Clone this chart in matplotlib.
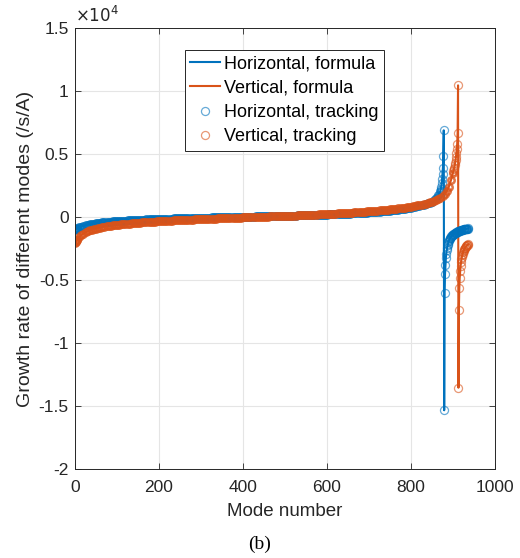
import numpy as np
import matplotlib.pyplot as plt
from matplotlib.ticker import FuncFormatter

plt.rcParams['font.family'] = ['Liberation Sans', 'DejaVu Sans']

# ----------------------
# Data (growth rate in 1/s/A)
# ----------------------
h_modes = np.concatenate([[1, 2, 3, 4], np.arange(5, 871, 5), np.arange(871, 937)])
h_rate = np.array([
    -1000, -970, -945, -920,
    -900, -820, -755, -700, -655, -615, -580, -548, -520, -495,
    -472, -450, -430, -412, -395, -379, -364, -350, -337, -325,
    -313, -302, -291, -281, -271, -262, -253, -244, -236, -228,
    -220, -212, -205, -198, -191, -184, -177, -171, -165, -159,
    -153, -147, -141, -135, -130, -124, -119, -114, -109, -104,
    -99, -94, -89, -85, -80, -76, -71, -67, -62, -58,
    -54, -50, -46, -42, -38, -34, -30, -26, -22, -18,
    -14, -11, -7, -3, 1, 4, 8, 12, 15, 19,
    23, 26, 30, 34, 37, 41, 45, 48, 52, 56,
    60, 63, 67, 71, 75, 79, 83, 87, 91, 95,
    99, 103, 108, 112, 116, 121, 125, 130, 134, 139,
    144, 149, 154, 159, 164, 170, 175, 181, 187, 193,
    199, 205, 212, 218, 225, 232, 240, 247, 255, 263,
    271, 280, 289, 298, 308, 318, 328, 339, 350, 362,
    374, 387, 400, 414, 428, 443, 459, 476, 493, 511,
    530, 550, 571, 593, 616, 640, 666, 693, 722, 752,
    784, 818, 855, 894, 936, 982, 1032, 1087, 1148, 1217,
    1320, 1480, 1720, 2050,
    2220, 2420, 2680, 3000, 3410, 3890, 4840, 6880,
    -15340, -6030, -4520, -3810, -3260, -2900, -2640, -2430, -2260, -2120,
    -2000, -1900, -1820, -1750, -1690, -1630, -1580, -1540, -1500, -1460,
    -1430, -1400, -1370, -1345, -1320, -1295, -1275, -1255, -1235, -1215,
    -1197, -1180, -1163, -1147, -1132, -1117, -1103, -1090, -1077, -1065,
    -1053, -1042, -1031, -1020, -1010, -1000, -991, -982, -973, -965,
    -957, -949, -941, -934, -927, -920, -913, -906,
])

v_modes = np.concatenate([[1, 2, 3, 4], np.arange(5, 901, 5), np.arange(901, 937)])
v_rate = np.array([
    -2100, -2010, -1930, -1860,
    -1800, -1590, -1430, -1310, -1215, -1135, -1070, -1010, -960, -915,
    -875, -838, -805, -774, -745, -718, -693, -669, -646, -625,
    -605, -586, -568, -551, -534, -518, -503, -488, -474, -460,
    -447, -434, -421, -409, -397, -385, -374, -363, -352, -341,
    -331, -321, -311, -301, -292, -283, -274, -265, -256, -248,
    -240, -232, -224, -216, -208, -200, -193, -185, -178, -171,
    -164, -157, -150, -143, -136, -129, -122, -116, -109, -103,
    -96, -90, -83, -77, -70, -64, -58, -51, -45, -39,
    -33, -27, -20, -14, -8, -2, 4, 10, 16, 22,
    28, 34, 40, 46, 53, 59, 65, 72, 78, 85,
    91, 98, 105, 111, 118, 125, 132, 139, 146, 154,
    161, 169, 176, 184, 192, 200, 209, 217, 226, 235,
    243, 252, 261, 270, 279, 289, 299, 309, 319, 330,
    341, 352, 364, 376, 388, 401, 414, 427, 441, 455,
    468, 481, 495, 509, 524, 539, 555, 571, 588, 606,
    624, 643, 663, 684, 706, 729, 753, 778, 804, 831,
    859, 889, 920, 953, 988, 1025, 1065, 1107, 1152, 1200,
    1250, 1320, 1410, 1520, 1650, 1800, 2050, 2400, 2900, 3500,
    3630, 3770, 3920, 4090, 4280, 4500, 4760, 5060, 5400, 5800, 6700, 10450,
    -13550, -7380, -5640, -4820, -4290, -3900, -3600, -3370, -3180, -3030,
    -2900, -2790, -2700, -2620, -2550, -2490, -2430, -2380, -2340, -2300,
    -2260, -2230, -2200, -2170,
])

blue = '#0072BD'
orange = '#D95319'
ink = '#262626'

# ----------------------
# Plot
# ----------------------
fig = plt.figure(figsize=(5.2, 5.58), dpi=100)
ax = fig.add_axes([75 / 520, 1 - 469 / 558, 420 / 520, 441 / 558])

ax.plot(h_modes, h_rate, color=blue, lw=1.5, label='Horizontal, formula')
ax.plot(v_modes, v_rate, color=orange, lw=1.5, label='Vertical, formula')

# tracking markers: the smooth part is sampled every 5 modes, so draw those
# rings heavier to give the solid band; the per-mode parts use thin rings
for modes, rate, col, cut, lab in [(h_modes, h_rate, blue, 870, 'Horizontal, tracking'),
                                   (v_modes, v_rate, orange, 900, 'Vertical, tracking')]:
    m = modes <= cut
    ax.plot(modes[m], rate[m], 'o', ms=4.6, mfc='none', mec=col, mew=1.8,
            alpha=0.8)
    ax.plot(modes[~m], rate[~m], 'o', ms=5.8, mfc='none', mec=col, mew=0.9,
            alpha=0.6, label=lab)

ax.set_xlim(0, 1000)
ax.set_ylim(-2e4, 1.5e4)
ax.set_xticks(np.arange(0, 1001, 200))
ax.set_yticks(np.arange(-2e4, 1.51e4, 0.5e4))
ax.yaxis.set_major_formatter(FuncFormatter(lambda v, p: f'{v / 1e4:g}'))
ax.tick_params(direction='in', top=True, right=True, labelsize=12.5,
               length=4, width=0.6, colors=ink)
ax.tick_params(axis='x', pad=8)
ax.tick_params(axis='y', pad=4.5)
ax.grid(True, color='#e5e5e5', lw=0.8)
ax.set_axisbelow(True)
for s in ax.spines.values():
    s.set_color(ink)
    s.set_linewidth(0.7)

ax.set_xlabel('Mode number', fontsize=13.5, color=ink, labelpad=6)
ax.set_ylabel('Growth rate of different modes (/s/A)', fontsize=14,
              color=ink, labelpad=3)
ax.text(0.0, 1.006, r'$\times10^{4}$', transform=ax.transAxes, fontsize=12,
        color=ink, ha='left', va='bottom')

leg = ax.legend(loc='upper left', bbox_to_anchor=(0.262, 0.95), fontsize=13,
                handlelength=1.65, handletextpad=0.2, borderpad=0.3,
                borderaxespad=0, labelspacing=0.4, fancybox=False,
                framealpha=1)
leg.get_frame().set_edgecolor(ink)
leg.get_frame().set_linewidth(0.7)

fig.text(0.5, 1 - 544 / 558, '(b)', family='Liberation Serif', fontsize=14,
         ha='center', va='center')

plt.savefig('out.png', dpi=100)
